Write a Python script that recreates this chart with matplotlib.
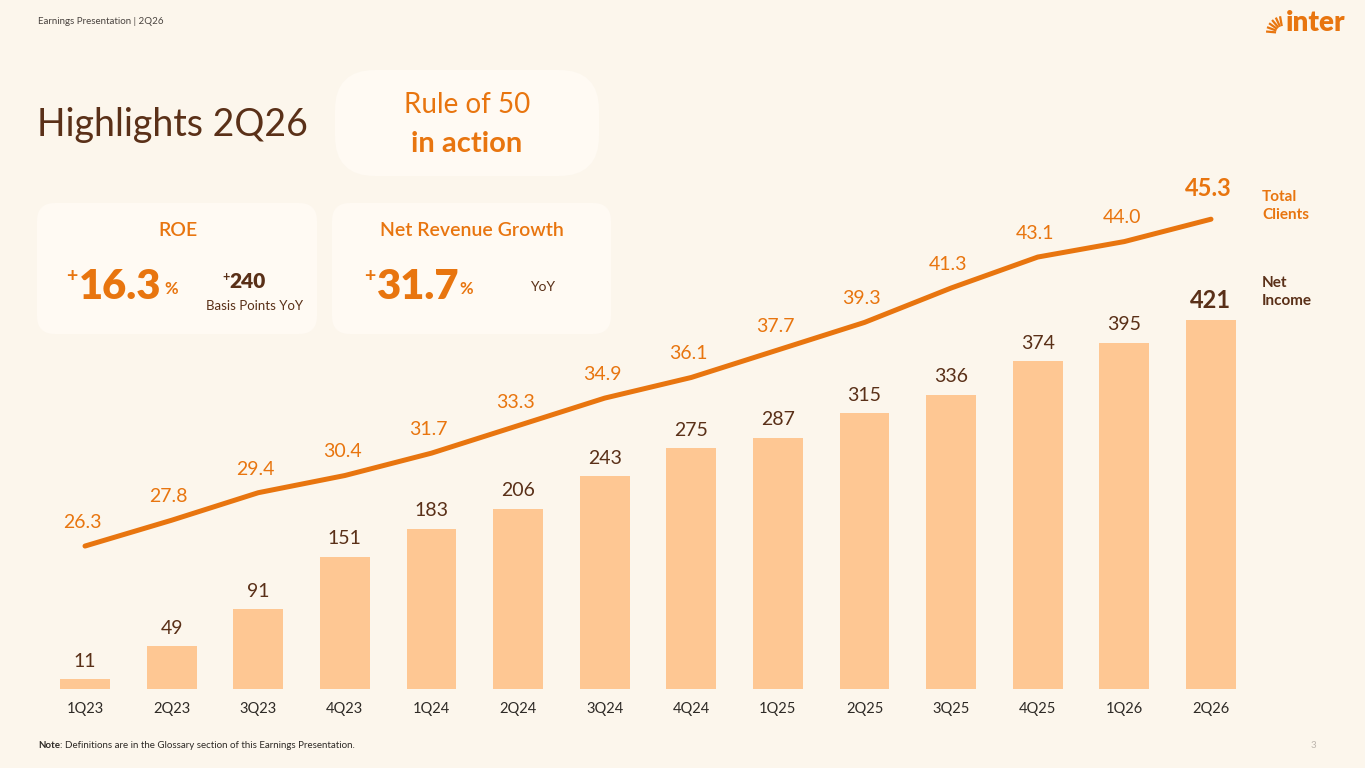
import matplotlib
matplotlib.use("Agg")
import matplotlib.pyplot as plt
from matplotlib.patches import FancyBboxPatch
import numpy as np

quarters = ["1Q23", "2Q23", "3Q23", "4Q23", "1Q24", "2Q24", "3Q24", "4Q24",
            "1Q25", "2Q25", "3Q25", "4Q25", "1Q26", "2Q26"]
net_income = [11, 49, 91, 151, 183, 206, 243, 275, 287, 315, 336, 374, 395, 421]
total_clients = [26.3, 27.8, 29.4, 30.4, 31.7, 33.3, 34.9, 36.1, 37.7, 39.3, 41.3, 43.1, 44.0, 45.3]

BG = "#FCF6EC"
BOX = "#FFFAF3"
BAR = "#FEC793"
ORANGE = "#E8750F"
BROWN = "#5A3018"
DARK = "#2E2A26"
FONT = "Lato"

plt.rcParams["font.family"] = [FONT, "DejaVu Sans"]

W, H = 1365, 768
fig = plt.figure(figsize=(W / 100, H / 100), dpi=100, facecolor=BG)

# background / overlay axes in pixel coordinates
bg = fig.add_axes([0, 0, 1, 1], zorder=0)
bg.set_xlim(0, W)
bg.set_ylim(H, 0)
bg.axis("off")
bg.set_facecolor(BG)

def rbox(x0, y0, x1, y1, r):
    p = FancyBboxPatch((x0 + r, y0 + r), (x1 - x0) - 2 * r, (y1 - y0) - 2 * r,
                       boxstyle=f"round,pad={r}", fc=BOX, ec="none")
    bg.add_patch(p)

# header
bg.text(38, 22, "Earnings Presentation | 2Q26", fontsize=7, color="#4A4440", va="center", ha="left")
# logo
cx, cy = 1283, 33
for ang in np.linspace(100, 175, 6):
    a = np.deg2rad(ang)
    bg.plot([cx + 7 * np.cos(a), cx + 17 * np.cos(a)], [cy - 7 * np.sin(a), cy - 17 * np.sin(a)],
            color=ORANGE, lw=1.6, solid_capstyle="butt")
bg.text(1286, 23, "inter", fontsize=20, fontweight="heavy", color=ORANGE, va="center", ha="left")

# title
bg.text(37, 125, "Highlights 2Q26", fontsize=27, fontweight="normal", color=BROWN, va="center", ha="left")

# Rule of 50 pill
rbox(335, 70, 599, 176, 40)
bg.text(467, 105, "Rule of 50", fontsize=20, fontweight="normal", color=ORANGE, va="center", ha="center")
bg.text(467, 144, "in action", fontsize=21, fontweight="bold", color=ORANGE, va="center", ha="center")

# ROE box
rbox(37, 203, 317, 334, 18)
bg.text(178, 231, "ROE", fontsize=14, fontweight="semibold", color=ORANGE, va="center", ha="center")
bg.text(66, 276, "+", fontsize=14, fontweight="bold", color=ORANGE, va="center", ha="left")
bg.text(79, 287, "16.3", fontsize=30, fontweight="heavy", color=ORANGE, va="center", ha="left")
bg.text(164, 289, "%", fontsize=12, fontweight="bold", color=ORANGE, va="center", ha="left")
bg.text(222, 277, "+", fontsize=9, fontweight="bold", color=BROWN, va="center", ha="left")
bg.text(229, 282, "240", fontsize=15, fontweight="heavy", color=BROWN, va="center", ha="left")
bg.text(255, 306, "Basis Points YoY", fontsize=9.5, color=BROWN, va="center", ha="center")

# Net revenue box
rbox(332, 203, 611, 334, 18)
bg.text(472, 231, "Net Revenue Growth", fontsize=14, fontweight="semibold", color=ORANGE, va="center", ha="center")
bg.text(364, 276, "+", fontsize=14, fontweight="bold", color=ORANGE, va="center", ha="left")
bg.text(377, 287, "31.7", fontsize=30, fontweight="heavy", color=ORANGE, va="center", ha="left")
bg.text(459, 289, "%", fontsize=12, fontweight="bold", color=ORANGE, va="center", ha="left")
bg.text(543, 287, "YoY", fontsize=10, color=BROWN, va="center", ha="center")

# legend labels
bg.text(1262, 206, "Total\nClients", fontsize=11, fontweight="bold", color=ORANGE, va="center", ha="left",
        linespacing=1.35)
bg.text(1262, 292, "Net\nIncome", fontsize=11, fontweight="bold", color=BROWN, va="center", ha="left",
        linespacing=1.35)

# footer
bg.text(38, 745, "Note", fontsize=7, fontweight="bold", color="#2E2A26", va="center", ha="left")
bg.text(60, 745, ": Definitions are in the Glossary section of this Earnings Presentation.", fontsize=7,
        color="#2E2A26", va="center", ha="left")
bg.text(1313, 745, "3", fontsize=7, color="#BDB6AE", va="center", ha="center")

# chart axes
left_px, right_px = 41.7, 1254.3
bot_px, top_px = 689, 170
ax = fig.add_axes([left_px / W, 1 - bot_px / H, (right_px - left_px) / W, (bot_px - top_px) / H], zorder=2)
ax.patch.set_alpha(0)
x = np.arange(len(quarters))
bars = ax.bar(x, net_income, width=0.575, color=BAR, zorder=2)
ax.set_xlim(-0.5, len(quarters) - 0.5)
ax.set_ylim(0, (bot_px - top_px) / 0.876)
for s in ax.spines.values():
    s.set_visible(False)
ax.set_yticks([])
ax.set_xticks(x, labels=quarters)
ax.tick_params(axis="x", length=0, pad=9, labelsize=10.5, labelcolor=DARK)

for i, v in enumerate(net_income):
    last = i == len(net_income) - 1
    ax.annotate(str(v), (x[i], v), xytext=(0, 13 if not last else 14), textcoords="offset points",
                ha="center", va="center", fontsize=14 if not last else 17,
                fontweight="bold" if last else "normal", color=BROWN, zorder=4)

ax2 = ax.twinx()
ax2.set_ylim(17.99, 48.16)
ax2.set_yticks([])
for s in ax2.spines.values():
    s.set_visible(False)
ax2.plot(x, total_clients, color=ORANGE, lw=3.6, solid_joinstyle="round", solid_capstyle="round", zorder=3)
for i, v in enumerate(total_clients):
    last = i == len(total_clients) - 1
    ax2.annotate(f"{v:.1f}", (x[i], v), xytext=(-2, 17 if not last else 22), textcoords="offset points",
                 ha="center", va="center", fontsize=14 if not last else 17,
                 fontweight="bold" if last else "normal", color=ORANGE)

fig.savefig("out.png", dpi=100, facecolor=BG)
